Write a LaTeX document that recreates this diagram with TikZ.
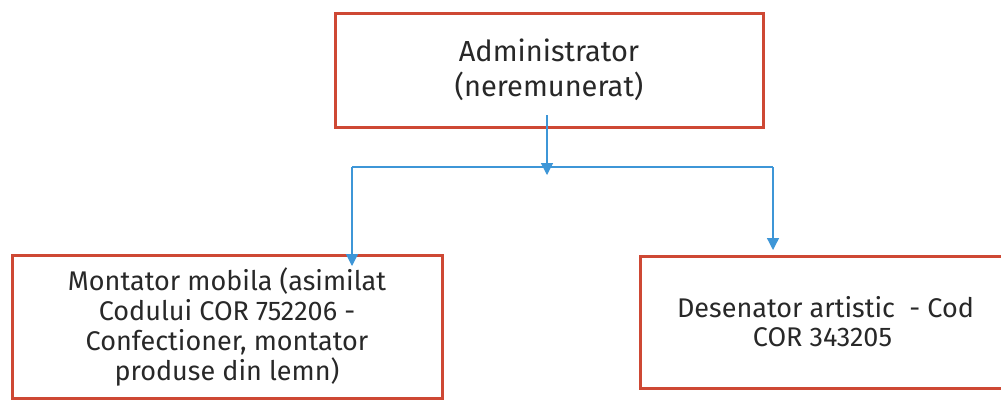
\documentclass[tikz,border=0pt]{standalone}
\usepackage{fontspec}
\setmainfont{Fira Sans}
\usetikzlibrary{arrows.meta}
\definecolor{boxred}{RGB}{206,72,52}
\definecolor{linkblue}{RGB}{62,150,215}
\definecolor{txt}{RGB}{40,40,40}
\tikzset{
  orgbox/.style={draw=boxred, line width=3pt, fill=white, text=txt, align=center, inner sep=0pt},
  conn/.style={draw=linkblue, line width=1.3pt},
  connarrow/.style={conn, -{Triangle[width=12pt,length=12pt]}},
}
\begin{document}
\begin{tikzpicture}[x=1pt,y=-1pt]
\useasboundingbox[fill=white] (0,0) rectangle (1001,400);
\node[orgbox, minimum width=428pt, minimum height=114pt,
      font=\fontsize{29}{35}\selectfont] (adm) at (549,70)
  {Administrator\\(neremunerat)};
\node[orgbox, minimum width=430pt, minimum height=143pt,
      font=\fontsize{27}{30}\selectfont] (mont) at (227,326.5)
  {Montator mobila (asimilat\\Codului COR 752206 -\\Confectioner, montator\\produse din lemn)};
\node[orgbox, minimum width=365pt, minimum height=132pt,
      font=\fontsize{27}{29}\selectfont] (des) at (822.5,322)
  {\hspace*{6pt}Desenator artistic\ \ - Cod\\COR 343205};
\coordinate (a0) at (547,115);
\coordinate (a1) at (547,175);
\coordinate (jl) at (352,167);
\coordinate (jr) at (773,167);
\coordinate (tl) at (352,266);
\coordinate (tr) at (773,250);
\draw[connarrow] (a0) -- (a1);
\draw[conn] (jl) -- (jr);
\draw[connarrow] (jl) -- (tl);
\draw[connarrow] (jr) -- (tr);
\end{tikzpicture}
\end{document}
